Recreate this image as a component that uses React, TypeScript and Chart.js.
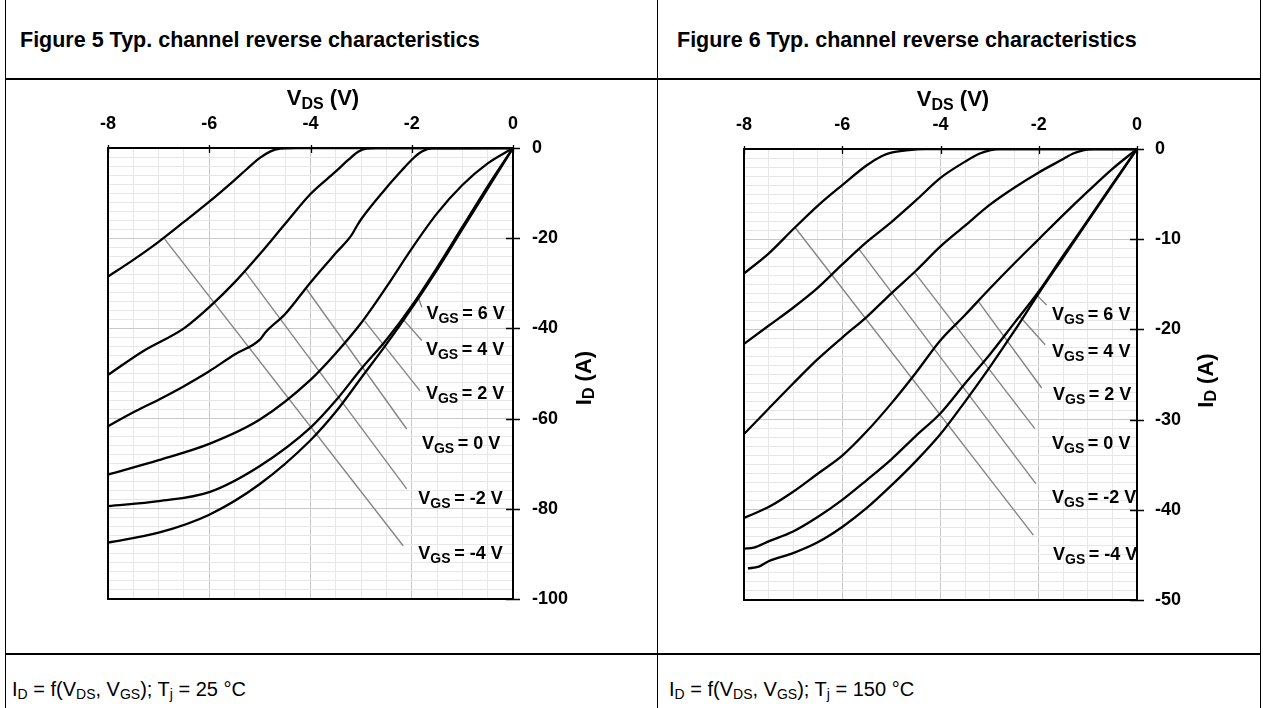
import React, { useEffect, useRef } from 'react';
import { Chart, registerables } from 'chart.js';

Chart.register(...registerables);

const FONT = '"Liberation Sans", Arial, Helvetica, sans-serif';

// ---------- shared labels ----------
const VGS_LABELS = ['6', '4', '2', '0', '-2', '-4'];
const X_TICK_LABELS = [-8, -6, -4, -2, 0];
const F5_Y_TICK_LABELS = [0, -20, -40, -60, -80, -100];
const F6_Y_TICK_LABELS = [0, -10, -20, -30, -40, -50];

// ---------- Figure 5 : Tj = 25 °C ----------
const F5_VDS_6 = [-8, -7, -6, -5, -4, -3.5, -3, -2.5, -2, -1.5, -1, -0.5, 0];
const F5_ID_6 = [-87.5, -85.3, -81.3, -74.5, -64.8, -58.5, -51, -43.5, -35.5, -27, -18, -9, 0];
const F5_VDS_4 = [-8, -7, -6, -5, -4, -3.5, -3, -2.5, -2, -1.5, -1, -0.5, 0];
const F5_ID_4 = [-79.4, -78.3, -76.3, -70.5, -62, -56, -49, -42.5, -35, -26.5, -17.5, -8.5, 0];
const F5_VDS_2 = [-8, -7, -6, -5, -4, -3.5, -3, -2.5, -2, -1.5, -1, -0.5, 0];
const F5_ID_2 = [-72.4, -69.2, -65.6, -60.2, -51.4, -45.5, -38.8, -30.8, -22.3, -14.5, -8.2, -3.4, 0];
const F5_VDS_0 = [-8, -7.5, -7, -6.5, -6, -5.5, -5, -4.9, -4.5, -4, -3.5, -3.2, -3.1, -3, -2.5, -2.2, -2, -1.8, -1.6, 0];
const F5_ID_0 = [-61.7, -58.6, -55.8, -52.8, -49.5, -45.8, -42.5, -41.0, -36.8, -29.8, -23.3, -19.5, -17.6, -15.8, -8.8, -5.0, -2.6, -0.8, -0.1, 0];
const F5_VDS_M2 = [-8, -7.3, -6.5, -6, -5.5, -5, -4.5, -4, -3.5, -3.25, -3.05, -2.9, -2.7, 0];
const F5_ID_M2 = [-50.3, -45, -40, -35.3, -29.8, -23.5, -16.8, -10.2, -5.2, -2.6, -0.8, -0.15, 0, 0];
const F5_VDS_M4 = [-8, -7.5, -7, -6.5, -6, -5.5, -5.25, -5, -4.8, -4.6, -4.3, 0];
const F5_ID_M4 = [-28.5, -24.8, -20.8, -16.4, -11.9, -7.1, -4.6, -2.2, -0.8, -0.15, 0, 0];

const F5_LEAD_V0 = [-1.87, -2.17, -2.93, -4.09, -5.3, -6.88];
const F5_LEAD_I0 = [-33.2, -38.0, -38.4, -31.1, -27.3, -20.2];
const F5_LEAD_V1 = [-1.8, -1.8, -1.84, -2.1, -2.1, -2.17];
const F5_LEAD_I1 = [-35.3, -42.7, -53.8, -62.3, -75.6, -88.2];
const F5_LABEL_V = [-1.71, -1.72, -1.72, -1.8, -1.87, -1.87];
const F5_LABEL_I = [-36.4, -44.5, -54.2, -65.3, -77.5, -89.7];

// ---------- Figure 6 : Tj = 150 °C ----------
const F6_VDS_6 = [-7.92, -7.7, -7.5, -7, -6.5, -6, -5.5, -5, -4.5, -4, -3.5, -3, -2.5, -2, -1.5, -1, -0.5, 0];
const F6_ID_6 = [-46.5, -46.3, -45.7, -44.8, -43.6, -41.9, -39.8, -37.3, -34.6, -31.6, -28.0, -24.2, -20.2, -16.0, -12.0, -8.0, -4.0, 0];
const F6_VDS_4 = [-8, -7.8, -7.5, -7, -6.5, -6, -5.5, -5, -4.5, -4, -3.5, -3, -2.5, -2, -1.5, -1, -0.5, 0];
const F6_ID_4 = [-44.3, -44.2, -43.5, -42.4, -40.8, -38.9, -36.7, -34.4, -31.8, -29.3, -26.0, -22.8, -19.3, -15.8, -11.8, -7.9, -3.9, 0];
const F6_VDS_2 = [-8, -7.5, -7, -6.5, -6, -5.5, -5, -4.5, -4, -3.5, -3, -2.5, -2, -1.5, -1, -0.5, 0];
const F6_ID_2 = [-40.9, -39.7, -38.0, -36.0, -34.0, -31.3, -28.2, -24.8, -21.2, -18.4, -15.5, -12.7, -10.0, -7.3, -4.7, -2.2, 0];
const F6_VDS_0 = [-8, -7.5, -7, -6.5, -6, -5.5, -5, -4.5, -4, -3.5, -3, -2.5, -2, -1.5, -1.3, -1.1, -0.9, 0];
const F6_ID_0 = [-31.6, -28.8, -26.0, -23.3, -20.9, -18.6, -16.0, -13.5, -10.8, -8.5, -6.2, -4.3, -2.6, -1.1, -0.5, -0.15, 0, 0];
const F6_VDS_M2 = [-8, -7.5, -7, -6.5, -6, -5.5, -5, -4.5, -4, -3.5, -3.2, -3, -2.8, 0];
const F6_ID_M2 = [-21.6, -19.6, -17.6, -15.4, -12.8, -10.3, -8.1, -5.7, -3.2, -1.4, -0.5, -0.15, 0, 0];
const F6_VDS_M4 = [-8, -7.5, -7, -6.5, -6, -5.5, -5.2, -5, -4.7, -4.3, 0];
const F6_ID_M4 = [-13.8, -11.6, -8.9, -6.3, -4.0, -1.8, -0.8, -0.4, -0.15, 0, 0];

const F6_LEAD_V0 = [-2.04, -2.38, -3.23, -4.54, -5.66, -6.96];
const F6_LEAD_I0 = [-16.2, -18.6, -16.9, -13.6, -11.1, -8.7];
const F6_LEAD_V1 = [-1.84, -1.87, -1.94, -2.08, -2.06, -2.11];
const F6_LEAD_I1 = [-17.3, -21.7, -26.5, -31.0, -37.1, -42.8];
const F6_LABEL_V = [-1.73, -1.73, -1.71, -1.73, -1.73, -1.71];
const F6_LABEL_I = [-18.2, -22.3, -27.1, -32.5, -38.5, -44.8];

// ---------- figure descriptions ----------
type Fig = {
  vds: number[][];
  id: number[][];
  leadV0: number[]; leadI0: number[]; leadV1: number[]; leadI1: number[];
  labelV: number[]; labelI: number[];
  yMin: number; yStep: number; yMajor: number; yTicks: number[];
  pad: { left: number; top: number; right: number; bottom: number };
  xAxisH: number; yAxisW: number; yTickPad: number;
  yTitleDx: number; yTitleDy: number;
};

const FIG5: Fig = {
  vds: [F5_VDS_6, F5_VDS_4, F5_VDS_2, F5_VDS_0, F5_VDS_M2, F5_VDS_M4],
  id: [F5_ID_6, F5_ID_4, F5_ID_2, F5_ID_0, F5_ID_M2, F5_ID_M4],
  leadV0: F5_LEAD_V0, leadI0: F5_LEAD_I0, leadV1: F5_LEAD_V1, leadI1: F5_LEAD_I1,
  labelV: F5_LABEL_V, labelI: F5_LABEL_I,
  yMin: -100, yStep: 2, yMajor: 20, yTicks: F5_Y_TICK_LABELS,
  pad: { left: 108, top: 0, right: 43, bottom: 55 },
  xAxisH: 68, yAxisW: 100, yTickPad: 19,
  yTitleDx: 70, yTitleDy: 4.5,
};

const FIG6: Fig = {
  vds: [F6_VDS_6, F6_VDS_4, F6_VDS_2, F6_VDS_0, F6_VDS_M2, F6_VDS_M4],
  id: [F6_ID_6, F6_ID_4, F6_ID_2, F6_ID_0, F6_ID_M2, F6_ID_M4],
  leadV0: F6_LEAD_V0, leadI0: F6_LEAD_I0, leadV1: F6_LEAD_V1, leadI1: F6_LEAD_I1,
  labelV: F6_LABEL_V, labelI: F6_LABEL_I,
  yMin: -50, yStep: 1, yMajor: 10, yTicks: F6_Y_TICK_LABELS,
  pad: { left: 86, top: 0, right: 24, bottom: 54 },
  xAxisH: 69, yAxisW: 100, yTickPad: 18,
  yTitleDx: 68, yTitleDy: 6,
};

const MAJOR_GRID = '#c9c9c9';
const MINOR_GRID = '#e7e7e7';

type Seg = { t: string; size: number; dy: number };

function drawRich(ctx: CanvasRenderingContext2D, x: number, y: number, segs: Seg[], center: boolean) {
  let w = 0;
  const widths: number[] = [];
  for (const s of segs) {
    ctx.font = `bold ${s.size}px ${FONT}`;
    const m = ctx.measureText(s.t).width;
    widths.push(m);
    w += m;
  }
  let cx = center ? x - w / 2 : x;
  segs.forEach((s, i) => {
    ctx.font = `bold ${s.size}px ${FONT}`;
    ctx.fillText(s.t, cx, y + s.dy);
    cx += widths[i];
  });
}

function makePlugin(fig: Fig) {
  return {
    id: 'figDecor',
    afterDatasetsDraw(chart: any) {
      const ctx: CanvasRenderingContext2D = chart.ctx;
      const { left, right, top, bottom } = chart.chartArea;
      const xs = chart.scales.x;
      const ys = chart.scales.y;
      ctx.save();
      // plot frame
      ctx.strokeStyle = '#000';
      ctx.lineWidth = 2;
      ctx.strokeRect(left, top, right - left, bottom - top);
      // crossing tick marks
      ctx.lineWidth = 1.3;
      ctx.beginPath();
      for (const v of X_TICK_LABELS) {
        const px = Math.round(xs.getPixelForValue(v)) + 0.5;
        ctx.moveTo(px, top - 3);
        ctx.lineTo(px, top + 5);
      }
      for (const v of fig.yTicks) {
        const py = Math.round(ys.getPixelForValue(v)) + 0.5;
        ctx.moveTo(right - 7, py);
        ctx.lineTo(right + 7, py);
      }
      ctx.stroke();
      // curve labels
      ctx.fillStyle = '#000';
      ctx.textAlign = 'left';
      ctx.textBaseline = 'alphabetic';
      VGS_LABELS.forEach((lab, i) => {
        const px = xs.getPixelForValue(fig.labelV[i]);
        const py = ys.getPixelForValue(fig.labelI[i]);
        drawRich(ctx, px, py + 6.5, [
          { t: 'V', size: 18, dy: 0 },
          { t: 'GS', size: 14, dy: 4 },
          { t: '\u2009= ' + lab + ' V', size: 18, dy: 0 },
        ], false);
      });
      // x axis title
      const cx = (left + right) / 2 + 12.5;
      drawRich(ctx, cx, top - 43, [
        { t: 'V', size: 22, dy: 0 },
        { t: 'DS', size: 16, dy: 3.5 },
        { t: ' (V)', size: 22, dy: 0 },
      ], true);
      // y axis title (rotated)
      ctx.translate(right + fig.yTitleDx, (top + bottom) / 2 + fig.yTitleDy);
      ctx.rotate(-Math.PI / 2);
      drawRich(ctx, 0, 7.9, [
        { t: 'I', size: 22, dy: 0 },
        { t: 'D', size: 16, dy: 3.5 },
        { t: ' (A)', size: 22, dy: 0 },
      ], true);
      ctx.restore();
    },
  };
}

function buildConfig(fig: Fig): any {
  const datasets: any[] = [];
  fig.vds.forEach((vArr, k) => {
    datasets.push({
      label: 'VGS = ' + VGS_LABELS[k] + ' V',
      data: vArr.map((v, i) => ({ x: v, y: fig.id[k][i] })),
      borderColor: '#000',
      borderWidth: 2.3,
      pointRadius: 0,
      fill: false,
      cubicInterpolationMode: 'monotone',
    });
  });
  VGS_LABELS.forEach((lab, k) => {
    datasets.push({
      label: 'leader ' + lab,
      data: [
        { x: fig.leadV0[k], y: fig.leadI0[k] },
        { x: fig.leadV1[k], y: fig.leadI1[k] },
      ],
      borderColor: '#858585',
      borderWidth: 1.4,
      pointRadius: 0,
      fill: false,
      tension: 0,
    });
  });
  const tickFont = { family: FONT, size: 18, weight: 'bold' };
  return {
    type: 'line',
    data: { datasets },
    options: {
      responsive: false,
      animation: false,
      devicePixelRatio: 1,
      events: [],
      layout: { padding: fig.pad },
      plugins: { legend: { display: false }, tooltip: { enabled: false }, title: { display: false } },
      scales: {
        x: {
          type: 'linear',
          position: 'top',
          min: -8,
          max: 0,
          ticks: {
            stepSize: 0.5,
            autoSkip: false,
            maxRotation: 0,
            padding: 13,
            color: '#000',
            font: tickFont,
            callback: (v: number) => (X_TICK_LABELS.includes(v) ? String(v) : ''),
          },
          grid: {
            drawTicks: false,
            lineWidth: 1,
            color: (c: any) => (Math.abs(c.tick.value % 2) < 1e-9 ? MAJOR_GRID : MINOR_GRID),
          },
          border: { display: false },
          afterFit: (s: any) => { s.height = fig.xAxisH; },
        },
        y: {
          type: 'linear',
          position: 'right',
          min: fig.yMin,
          max: 0,
          ticks: {
            stepSize: fig.yStep,
            autoSkip: false,
            padding: fig.yTickPad,
            color: '#000',
            font: tickFont,
            callback: (v: number) => (fig.yTicks.includes(v) ? String(v) : ''),
          },
          grid: {
            drawTicks: false,
            lineWidth: 1,
            color: (c: any) => (Math.abs(c.tick.value % fig.yMajor) < 1e-9 ? MAJOR_GRID : MINOR_GRID),
          },
          border: { display: false },
          afterFit: (s: any) => { s.width = fig.yAxisW; },
        },
      },
    },
    plugins: [makePlugin(fig)],
  };
}

function FigureCanvas(props: { fig: Fig; left: number; top: number; width: number; height: number }) {
  const ref = useRef<HTMLCanvasElement | null>(null);
  useEffect(() => {
    if (!ref.current) return;
    const chart = new Chart(ref.current, buildConfig(props.fig));
    return () => chart.destroy();
  }, []);
  return (
    <canvas
      ref={ref}
      width={props.width}
      height={props.height}
      style={{ position: 'absolute', left: props.left, top: props.top, width: props.width, height: props.height, display: 'block' }}
    />
  );
}

const line = (l: number, t: number, w: number, h: number) => (
  <div style={{ position: 'absolute', left: l, top: t, width: w, height: h, background: '#000' }} />
);

const subStyle: React.CSSProperties = { fontSize: 14, verticalAlign: '-3px' };

function Footer(props: { left: number; temp: string }) {
  return (
    <div style={{ position: 'absolute', left: props.left, top: 676, height: 26, lineHeight: '26px', fontSize: 20, whiteSpace: 'nowrap', color: '#000' }}>
      I<span style={subStyle}>D</span> = f(V<span style={subStyle}>DS</span>, V<span style={subStyle}>GS</span>); T<span style={subStyle}>j</span> = {props.temp} °C
    </div>
  );
}

function Header(props: { left: number; text: string }) {
  return (
    <div style={{ position: 'absolute', left: props.left, top: 28, height: 24, lineHeight: '24px', fontSize: 21.5, fontWeight: 'bold', whiteSpace: 'nowrap', color: '#000' }}>
      {props.text}
    </div>
  );
}

export default function App() {
  return (
    <div style={{ position: 'fixed', left: 0, top: 0, width: 1263, height: 708, background: '#fff', overflow: 'hidden', fontFamily: FONT }}>
      <FigureCanvas fig={FIG5} left={0} top={80} width={656} height={574} />
      <FigureCanvas fig={FIG6} left={658} top={80} width={603} height={574} />
      {line(5, 0, 1, 708)}
      {line(657, 0, 1, 708)}
      {line(1260, 0, 1, 708)}
      {line(5, 78, 1256, 2)}
      {line(5, 653, 1256, 2)}
      <Header left={20} text="Figure 5 Typ. channel reverse characteristics" />
      <Header left={677} text="Figure 6 Typ. channel reverse characteristics" />
      <Footer left={12} temp="25" />
      <Footer left={669} temp="150" />
    </div>
  );
}
